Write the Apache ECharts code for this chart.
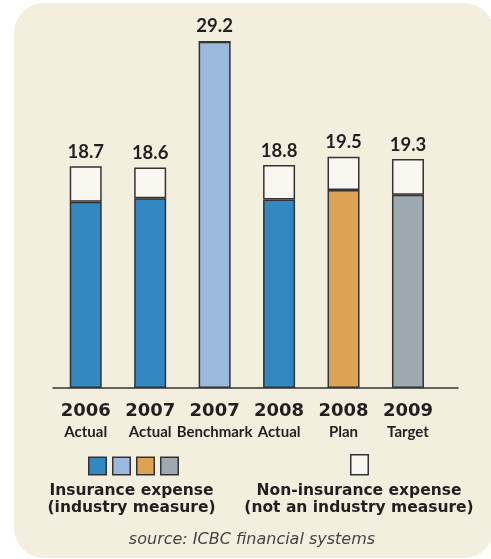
<!DOCTYPE html>
<html>
<head>
<meta charset="utf-8">
<script src="https://cdn.jsdelivr.net/npm/echarts@6/dist/echarts.min.js"></script>
<style>
  html, body { margin: 0; padding: 0; background: #ffffff; }
  #chart { width: 491px; height: 559px; }
</style>
</head>
<body>
<div id="chart"></div>
<script>
// Expense ratios by period
const years = ['2006', '2007', '2007', '2008', '2008', '2009'];
const periods = ['Actual', 'Actual', 'Benchmark', 'Actual', 'Plan', 'Target'];
const totals = [18.7, 18.6, 29.2, 18.8, 19.5, 19.3];
const insurance = [15.7, 16.0, 29.2, 15.9, 16.7, 16.3];
const insuranceColors = ['#3388c1', '#3388c1', '#9ab9dc', '#3388c1', '#dda353', '#9ea8b1'];
const legendColors = ['#3388c1', '#9ab9dc', '#dda353', '#9ea8b1'];

const nonInsurance = totals.map((t, i) => +(t - insurance[i]).toFixed(1));
const categories = years.map((y, i) => y + '\n' + periods[i]);

const BORDER = '#333333';
const BLANK = '#f9f7ef';
const TEXT = '#231f20';

const chart = echarts.init(document.getElementById('chart'));

// legend: coloured swatches with two-line captions
const legendGraphics = [];
legendColors.forEach((c, i) => {
  legendGraphics.push({
    type: 'rect', left: 88 + i * 24, top: 456.5,
    shape: { width: 17.5, height: 17.5 },
    style: { fill: c, stroke: BORDER, lineWidth: 1.5 }
  });
});
legendGraphics.push({
  type: 'rect', left: 350, top: 454,
  shape: { width: 17.5, height: 20 },
  style: { fill: BLANK, stroke: BORDER, lineWidth: 1.5 }
});
legendGraphics.push({
  type: 'text', x: 131.5, y: 482,
  style: {
    text: 'Insurance expense\n(industry measure)',
    fill: TEXT, font: 'bold 15.5px "DejaVu Sans"', align: 'center', lineHeight: 17.5
  }
});
legendGraphics.push({
  type: 'text', x: 359, y: 482,
  style: {
    text: 'Non-insurance expense\n(not an industry measure)',
    fill: TEXT, font: 'bold 15.5px "DejaVu Sans"', align: 'center', lineHeight: 17.5
  }
});
legendGraphics.push({
  type: 'text', x: 252, y: 532,
  style: {
    text: 'source: ICBC financial systems',
    fill: '#444444', font: 'italic 16px "DejaVu Sans"', align: 'center'
  }
});

chart.setOption({
  animation: false,
  graphic: [
    {
      type: 'rect', left: 14, top: 3, z: -10,
      shape: { width: 480, height: 555, r: 30 },
      style: { fill: '#f3efdf' }
    },
    ...legendGraphics
  ],
  grid: [
    { left: 53.5, right: 50.8, top: 8.5, bottom: 171 },
    { left: 53, right: 33, top: 8.5, bottom: 171 }
  ],
  xAxis: [
    {
      type: 'category', gridIndex: 0, data: categories,
      axisLine: { show: false }, axisTick: { show: false },
      axisLabel: {
        margin: 13, interval: 0,
        formatter: v => {
          const [y, p] = v.split('\n');
          return '{y|' + y + '}\n{s|' + p + '}';
        },
        rich: {
          y: { fontFamily: 'DejaVu Sans', fontWeight: 'bold', fontSize: 18, lineHeight: 21, color: TEXT },
          s: { fontFamily: 'Lato', fontWeight: 'bold', fontSize: 15, lineHeight: 20, color: TEXT }
        }
      }
    },
    {
      type: 'value', gridIndex: 1, min: 0, max: 1,
      axisLine: { show: true, lineStyle: { color: BORDER, width: 1.5 } },
      axisTick: { show: false }, axisLabel: { show: false }, splitLine: { show: false }
    }
  ],
  yAxis: [
    { type: 'value', gridIndex: 0, min: 0, max: 32, show: false },
    { type: 'value', gridIndex: 1, min: 0, max: 1, show: false }
  ],
  series: [
    {
      name: 'Insurance expense', type: 'bar', stack: 'total', barWidth: 32,
      data: insurance.map((v, i) => ({
        value: v,
        itemStyle: { color: insuranceColors[i], borderColor: BORDER, borderWidth: 1.5 }
      }))
    },
    {
      name: 'Non-insurance expense', type: 'bar', stack: 'total', barWidth: 32,
      itemStyle: { color: BLANK, borderColor: BORDER, borderWidth: 1.5 },
      data: nonInsurance,
      label: {
        show: true, position: 'top', distance: 5,
        formatter: p => totals[p.dataIndex].toFixed(1),
        fontFamily: 'Lato', fontWeight: 'bold', fontSize: 18.5, color: TEXT
      }
    }
  ]
});
</script>
</body>
</html>
